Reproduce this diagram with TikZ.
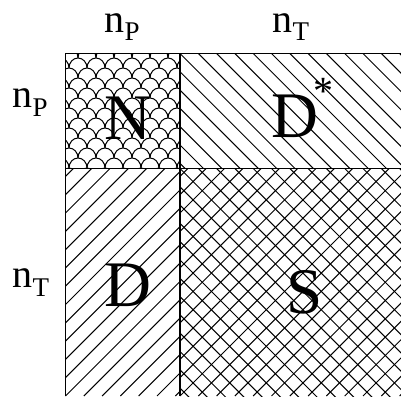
\documentclass[tikz,border=0pt]{standalone}
\usepackage{fontspec}
\setmainfont{Liberation Serif}
\begin{document}
\begin{tikzpicture}[x=1pt,y=1pt,
  hatch/.style={line width=1pt},
  border/.style={line width=1.5pt},
  bigl/.style={font=\fontsize{65}{65}\selectfont, inner sep=0pt},
  lab/.style={font=\fontsize{40}{40}\selectfont, inner sep=0pt, anchor=base west}]
\useasboundingbox (0,0) rectangle (401,396);
\clip (0,0) rectangle (401,396);
% N cell: fish scales
\begin{scope}
  \clip (65.5,227.5) rectangle (180,342.5);
  \foreach \j in {0,...,14} {
    \pgfmathsetmacro\yy{348-10*\j}
    \pgfmathsetmacro\off{mod(\j+1,2)*9}
    \foreach \i in {-1,...,8} {
      \draw[hatch] ({42+\off+18*\i},\yy) arc[start angle=180,end angle=0,x radius=9,y radius=10];
    }
  }
\end{scope}
% D* cell: down-right lines
\begin{scope}
  \clip (180,227.5) rectangle (401,342.5);
  \foreach \k in {-8,...,13} \draw[hatch] ({180+18.3*\k},342.5) -- ++(140,-140);
\end{scope}
% D cell: up-right lines
\begin{scope}
  \clip (65.5,0) rectangle (180,227.5);
  \foreach \k in {-14,...,7} \draw[hatch] ({65.5+18.3*\k},0) -- ++(240,240);
\end{scope}
% S cell: crosshatch
\begin{scope}
  \clip (180,0) rectangle (401,227.5);
  \foreach \k in {-14,...,13} {
    \draw[hatch] ({180+18.3*\k},227.5) -- ++(240,-240);
    \draw[hatch] ({180+18.3*\k},0) -- ++(240,240);
  }
\end{scope}
% borders
\draw[border] (65.5,0) -- (65.5,342.5) -- (401,342.5);
\draw[border] (180,0) -- (180,342.5);
\draw[border] (65.5,227.5) -- (401,227.5);
% big letters
\node[bigl, anchor=base] (N) at (127.5,256) {N};
\node[bigl, anchor=base west] (Ds) at (271,258) {D\kern-5pt\raisebox{33pt}{\fontsize{40}{40}\selectfont *}};
\node[bigl, anchor=base] (D) at (128,89) {D};
\node[bigl, anchor=base] (S) at (305,82) {S};
% labels
\node[lab] (tP) at (104.4,363) {n\raisebox{-8pt}{\fontsize{27}{27}\selectfont P}};
\node[lab] (tT) at (272.4,363) {n\raisebox{-8pt}{\fontsize{27}{27}\selectfont T}};
\node[lab] (lP) at (12.4,288) {n\raisebox{-9pt}{\fontsize{27}{27}\selectfont P}};
\node[lab] (lT) at (12.4,108) {n\raisebox{-9pt}{\fontsize{27}{27}\selectfont T}};
\end{tikzpicture}
\end{document}
